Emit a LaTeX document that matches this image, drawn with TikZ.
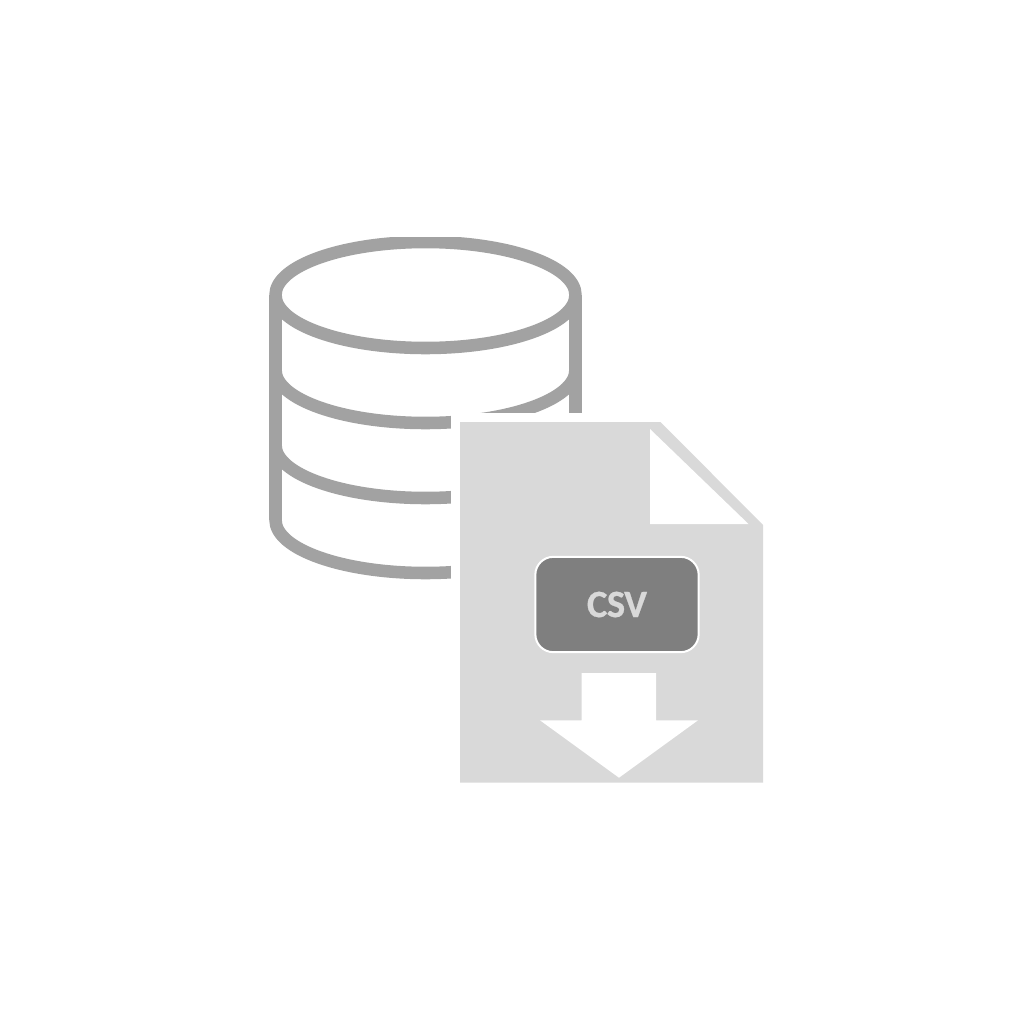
\documentclass[tikz,border=0pt]{standalone}
\usepackage{fontspec}
\setmainfont{Carlito}
\newfontfamily\csvfont[BoldFeatures={FakeBold=0.6,LetterSpace=-1.5}]{Carlito}
\definecolor{dbgray}{HTML}{A2A2A2}
\definecolor{filegray}{HTML}{D9D9D9}
\definecolor{badgegray}{HTML}{7F7F7F}
\tikzset{
  dbline/.style={draw=dbgray,line width=9.4pt,line join=round},
  filebody/.style={fill=filegray,draw=none},
  cutout/.style={fill=white,draw=none},
  badge/.style={fill=badgegray,draw=white,line width=1.5pt,rounded corners=13.5pt,minimum width=122.5pt,minimum height=71.5pt,inner sep=0pt,text=filegray,font=\csvfont\fontsize{29}{29}\selectfont\bfseries}
}
\begin{document}
\begin{tikzpicture}[x=0.75pt,y=-0.75pt]
\useasboundingbox[fill=white] (0,0) rectangle (1021,1025);
% database, its outermost edge cut flat as in the reference
\begin{scope}
\clip (260,237) rectangle (590,579);
\draw[dbline] (425.5,295) ellipse [x radius=150,y radius=53];
\draw[dbline] (275.5,295) -- (275.5,520) arc [start angle=180,end angle=0,x radius=150,y radius=53] -- (575.5,295);
\draw[dbline] (275.5,370) arc [start angle=180,end angle=0,x radius=150,y radius=53];
\draw[dbline] (275.5,445) arc [start angle=180,end angle=0,x radius=150,y radius=53];
\end{scope}
% white margin round the file
\fill[cutout] (451,413) rectangle (660,600);
% file
\fill[filebody] (460,422) -- (660.5,422) -- (763,525) -- (763,782.5) -- (460,782.5) -- cycle;
\fill[cutout] (650,429) -- (650,524) -- (748.5,524) -- cycle;
% badge
\node[badge] (csv) at (617,604.5) {\raisebox{-0.75pt}{CSV}};
% arrow
\fill[cutout] (581.7,673) -- (656,673) -- (656,720.3) -- (698,720.3) -- (619,777.7) -- (540,720.3) -- (581.7,720.3) -- cycle;
\end{tikzpicture}
\end{document}
